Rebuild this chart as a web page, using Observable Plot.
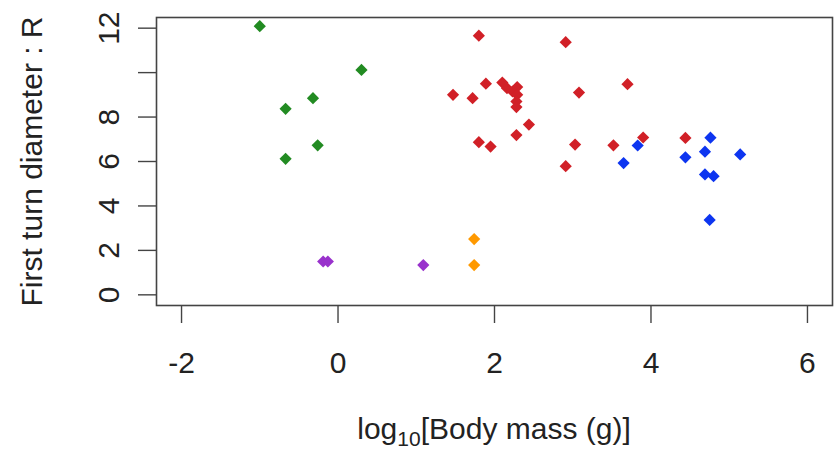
<!DOCTYPE html>
<html>
<head>
<meta charset="utf-8">
<script src="https://cdn.jsdelivr.net/npm/d3@7"></script>
<script src="https://cdn.jsdelivr.net/npm/@observablehq/plot@0.6"></script>
<style>
  html, body { margin: 0; padding: 0; background: #fff; }
  #chart svg { display: block; }
</style>
</head>
<body>
<div id="chart"></div>
<script>
// ---- data ----
const greenX  = [-1.00, 0.30, -0.32, -0.67, -0.26, -0.67];
const greenY  = [12.09, 10.12, 8.85, 8.37, 6.73, 6.12];
const redX    = [1.80, 2.91, 1.89, 2.10, 2.16, 2.23, 2.29, 2.29, 2.28, 2.28, 1.47, 1.72, 3.08, 3.70, 2.44, 2.28, 1.80, 1.95, 3.03, 3.52, 3.90, 4.44, 2.91];
const redY    = [11.66, 11.37, 9.50, 9.55, 9.30, 9.15, 9.35, 9.00, 8.70, 8.45, 9.00, 8.85, 9.10, 9.48, 7.66, 7.19, 6.87, 6.67, 6.76, 6.73, 7.08, 7.06, 5.79];
const blueX   = [3.83, 3.65, 4.76, 4.69, 4.44, 4.69, 4.80, 5.14, 4.75];
const blueY   = [6.72, 5.93, 7.07, 6.44, 6.19, 5.42, 5.34, 6.32, 3.37];
const orangeX = [1.74, 1.74];
const orangeY = [2.51, 1.34];
const purpleX = [-0.19, -0.13, 1.09];
const purpleY = [1.50, 1.50, 1.34];

const groupNames  = ["Group 1", "Group 2", "Group 3", "Group 4", "Group 5"];
const groupColors = ["#228B22", "#D12027", "#0D35F0", "#FF9900", "#9932CC"];

const xTicks = [-2, 0, 2, 4, 6];
const xTickLabels = ["-2", "0", "2", "4", "6"];
const yTicks = [0, 2, 4, 6, 8, 10, 12];
const yTickLabels = ["0", "2", "4", "6", "8", "", "12"];

const xTitleMain = "log";
const xTitleSub = "10";
const xTitleRest = "[Body mass (g)]";
const yTitle = "First turn diameter : R";

// build table
const groupsX = [greenX, redX, blueX, orangeX, purpleX];
const groupsY = [greenY, redY, blueY, orangeY, purpleY];
const points = [];
groupsX.forEach((xs, gi) => xs.forEach((x, i) => points.push({x, y: groupsY[gi][i], g: groupNames[gi]})));

const W = 837, H = 451;
const mL = 156, mR = 5, mT = 17, mB = 146;
const FONT = "'Liberation Sans', Arial, sans-serif";
const FS = 30;

const chart = Plot.plot({
  width: W,
  height: H,
  marginLeft: mL,
  marginRight: mR,
  marginTop: mT,
  marginBottom: mB,
  style: {fontFamily: FONT, fontSize: FS + "px", color: "#222", background: "#fff"},
  x: {domain: [-2.32, 6.32]},
  y: {domain: [-0.48, 12.48]},
  color: {type: "ordinal", domain: groupNames, range: groupColors},
  marks: [
    Plot.frame({stroke: "#444", strokeWidth: 1.6}),
    Plot.axisX({ticks: xTicks, tickSize: 18, tickPadding: 28, tickFormat: (d) => xTickLabels[xTicks.indexOf(d)], label: null, fontSize: FS, stroke: "#444", strokeWidth: 1.4, fill: "#222"}),
    Plot.axisY({ticks: yTicks, tickSize: 18, tickFormat: () => "", label: null, stroke: "#444", strokeWidth: 1.4}),
    Plot.text(yTicks, {y: (d) => d, text: (d, i) => yTickLabels[i], frameAnchor: "left", dx: -38, rotate: -90, textAnchor: "middle", lineAnchor: "bottom", fontSize: FS, fill: "#222"}),
    Plot.text([yTitle], {text: (d) => d, frameAnchor: "left", dx: -115, rotate: -90, textAnchor: "middle", lineAnchor: "bottom", fontSize: FS, fill: "#222"}),
    Plot.dot(points, {x: "x", y: "y", fill: "g", symbol: "diamond2", r: 5.5})
  ]
});

// x-axis title with a real subscript
const svg = d3.select(chart);
const t = svg.append("text")
  .attr("x", (mL + W - mR) / 2)
  .attr("y", 439)
  .attr("text-anchor", "middle")
  .attr("fill", "#222")
  .style("font-family", FONT)
  .style("font-size", FS + "px");
t.append("tspan").text(xTitleMain);
t.append("tspan").attr("dy", 7).style("font-size", "21px").text(xTitleSub);
t.append("tspan").attr("dy", -7).text(xTitleRest);

document.getElementById("chart").appendChild(chart);
</script>
</body>
</html>
